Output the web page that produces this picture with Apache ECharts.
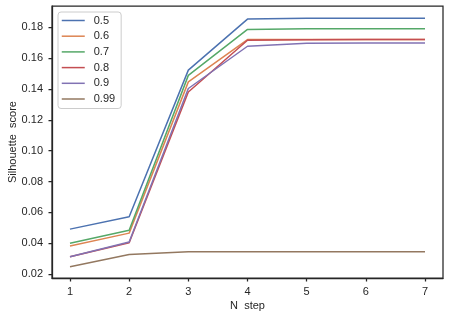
<!DOCTYPE html>
<html>
<head>
<meta charset="utf-8">
<script src="https://cdn.jsdelivr.net/npm/echarts@6/dist/echarts.min.js"></script>
<style>html,body{margin:0;padding:0;background:#fff;}#c{width:449px;height:319px;}</style>
</head>
<body>
<div id="c"></div>
<script>
var steps = [1, 2, 3, 4, 5, 6, 7];
var names = ['0.5', '0.6', '0.7', '0.8', '0.9', '0.99'];
var s05 = [0.0491, 0.0571, 0.1522, 0.1853, 0.1858, 0.1859, 0.1859];
var s06 = [0.0381, 0.0465, 0.1446, 0.1720, 0.1721, 0.1721, 0.1721];
var s07 = [0.0400, 0.0484, 0.1488, 0.1786, 0.1790, 0.1791, 0.1791];
var s08 = [0.0312, 0.0403, 0.1380, 0.1716, 0.1719, 0.1720, 0.1720];
var s09 = [0.0312, 0.0408, 0.1403, 0.1677, 0.1697, 0.1698, 0.1698];
var s099 = [0.0247, 0.0326, 0.0345, 0.0345, 0.0345, 0.0345, 0.0345];
var yTicks = [0.02, 0.04, 0.06, 0.08, 0.10, 0.12, 0.14, 0.16, 0.18];
var xTicks = [1, 2, 3, 4, 5, 6, 7];

var colors = ['#4C72B0', '#DD8452', '#55A868', '#C44E52', '#8172B3', '#937860'];
var allSeries = [s05, s06, s07, s08, s09, s099];
var txt = '#262626';
var font = 'Liberation Sans, Arial, sans-serif';

var chart = echarts.init(document.getElementById('c'), null, {renderer: 'canvas'});
chart.setOption({
  animation: false,
  backgroundColor: '#ffffff',
  color: colors,
  grid: {left: 52, right: 6, top: 6, bottom: 41, containLabel: false, outerBoundsMode: 'none',
    show: true, borderColor: txt, borderWidth: 1.25, backgroundColor: 'transparent'},
  legend: {
    orient: 'vertical', left: 58, top: 12,
    data: names,
    itemWidth: 23, itemHeight: 11, itemGap: 4.7,
    padding: [3, 6, 4, 3],
    borderColor: '#cccccc', borderWidth: 1, borderRadius: 3,
    backgroundColor: 'rgba(255,255,255,0.8)',
    itemStyle: {opacity: 0},
    lineStyle: {width: 1.5},
    textStyle: {fontFamily: font, fontSize: 11, color: txt, padding: [0, 0, 0, 4]}
  },
  xAxis: {
    type: 'value', min: 0.696, max: 7.304,
    name: 'N  step', nameLocation: 'middle', nameGap: 22, nameMoveOverlap: false,
    nameTextStyle: {fontFamily: font, fontSize: 11, color: txt},
    axisLine: {show: true, lineStyle: {color: txt, width: 1.25}},
    axisTick: {show: true, length: 3.5, lineStyle: {color: txt, width: 1.25}, customValues: xTicks},
    axisLabel: {fontFamily: font, fontSize: 11, color: txt, margin: 8, customValues: xTicks},
    splitLine: {show: false}
  },
  yAxis: {
    type: 'value', min: 0.0174, max: 0.1938,
    name: 'Silhouette  score', nameLocation: 'middle', nameGap: 34, nameMoveOverlap: false,
    nameTextStyle: {fontFamily: font, fontSize: 11, color: txt},
    axisLine: {show: true, lineStyle: {color: txt, width: 1.25}},
    axisTick: {show: true, length: 3.5, lineStyle: {color: txt, width: 1.25}, customValues: yTicks},
    axisLabel: {fontFamily: font, fontSize: 11, color: txt, margin: 9, customValues: yTicks,
      formatter: function (v) { return v.toFixed(2); }},
    splitLine: {show: false}
  },
  series: names.map(function (n, i) {
    return {
      name: n, type: 'line', symbol: 'none', showSymbol: false,
      lineStyle: {width: 1.5, color: colors[i]},
      itemStyle: {color: colors[i]},
      data: steps.map(function (s, j) { return [s, allSeries[i][j]]; })
    };
  })
});
</script>
</body>
</html>
